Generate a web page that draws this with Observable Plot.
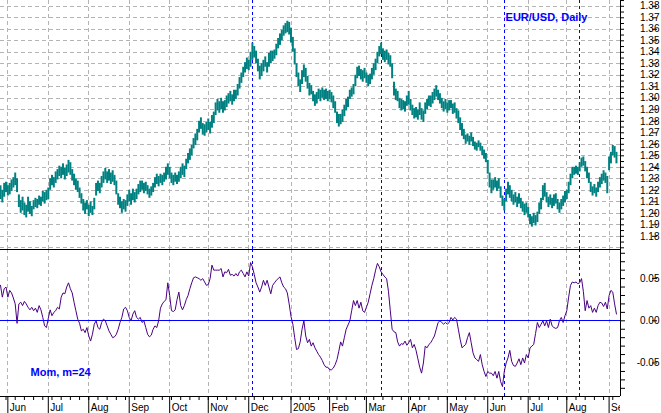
<!DOCTYPE html>
<html><head><meta charset="utf-8">
<script src="https://cdn.jsdelivr.net/npm/d3@7"></script>
<script src="https://cdn.jsdelivr.net/npm/@observablehq/plot@0.6"></script>
<style>
html,body{margin:0;padding:0;background:#fff;}
#chart{position:relative;width:661px;height:413px;overflow:hidden;background:#fff;}
#chart svg{position:absolute;left:0;}
</style></head><body><div id="chart"></div>
<script>
// EUR/USD daily bars, trading-day index 0 = 26 May 2004
const high = [1.224,1.220,1.226,1.227,1.224,1.226,1.229,1.231,1.235,1.230,
1.216,1.211,1.214,1.209,1.207,1.214,1.210,1.206,1.211,1.213,
1.212,1.215,1.214,1.219,1.218,1.220,1.222,1.230,1.233,1.231,
1.236,1.238,1.241,1.240,1.243,1.239,1.242,1.246,1.244,1.238,
1.234,1.230,1.228,1.222,1.217,1.212,1.209,1.211,1.207,1.210,
1.206,1.213,1.226,1.228,1.226,1.232,1.236,1.239,1.236,1.238,
1.235,1.237,1.233,1.228,1.217,1.214,1.210,1.212,1.211,1.216,
1.220,1.217,1.221,1.218,1.221,1.225,1.228,1.228,1.226,1.227,
1.224,1.221,1.223,1.226,1.231,1.234,1.232,1.234,1.233,1.235,
1.240,1.243,1.240,1.235,1.233,1.235,1.233,1.236,1.240,1.243,
1.241,1.247,1.252,1.256,1.259,1.265,1.269,1.273,1.280,1.283,
1.278,1.277,1.279,1.282,1.279,1.285,1.288,1.296,1.299,1.297,
1.300,1.297,1.298,1.302,1.304,1.306,1.303,1.307,1.307,1.312,
1.318,1.322,1.327,1.331,1.335,1.333,1.340,1.348,1.345,1.341,
1.334,1.328,1.330,1.333,1.336,1.331,1.339,1.341,1.341,1.342,
1.347,1.352,1.356,1.359,1.363,1.365,1.367,1.366,1.361,1.353,
1.343,1.330,1.322,1.316,1.324,1.329,1.326,1.319,1.313,1.311,
1.306,1.303,1.305,1.308,1.307,1.309,1.307,1.308,1.306,1.307,
1.305,1.302,1.297,1.288,1.286,1.286,1.290,1.294,1.299,1.301,
1.307,1.309,1.312,1.320,1.327,1.328,1.325,1.324,1.326,1.322,
1.320,1.321,1.326,1.330,1.334,1.340,1.345,1.348,1.343,1.341,
1.342,1.339,1.337,1.330,1.314,1.308,1.306,1.300,1.299,1.298,
1.297,1.302,1.306,1.299,1.294,1.291,1.292,1.290,1.296,1.291,
1.289,1.296,1.299,1.302,1.302,1.305,1.308,1.311,1.307,1.304,
1.300,1.297,1.299,1.296,1.298,1.298,1.295,1.296,1.291,1.289,
1.283,1.278,1.273,1.268,1.269,1.267,1.270,1.266,1.262,1.261,
1.263,1.261,1.258,1.255,1.252,1.246,1.235,1.229,1.229,1.231,
1.228,1.230,1.223,1.215,1.212,1.221,1.227,1.224,1.220,1.216,
1.218,1.214,1.217,1.213,1.210,1.208,1.209,1.205,1.199,1.197,
1.200,1.198,1.201,1.209,1.213,1.224,1.226,1.218,1.214,1.216,
1.213,1.216,1.217,1.212,1.209,1.212,1.215,1.219,1.220,1.227,
1.234,1.240,1.240,1.241,1.240,1.244,1.248,1.249,1.245,1.240,
1.235,1.227,1.223,1.225,1.222,1.227,1.231,1.234,1.237,1.235,
1.232,1.249,1.253,1.259,1.258,1.253];
const low = [1.212,1.209,1.214,1.218,1.215,1.216,1.219,1.222,1.224,1.218,
1.205,1.200,1.202,1.198,1.196,1.201,1.199,1.197,1.203,1.205,
1.204,1.207,1.206,1.210,1.208,1.211,1.212,1.220,1.224,1.222,
1.226,1.229,1.232,1.230,1.233,1.229,1.232,1.235,1.233,1.228,
1.224,1.220,1.218,1.213,1.208,1.202,1.199,1.203,1.197,1.200,
1.198,1.203,1.215,1.219,1.217,1.222,1.226,1.229,1.226,1.228,
1.225,1.227,1.224,1.216,1.207,1.204,1.200,1.203,1.201,1.206,
1.210,1.207,1.211,1.209,1.212,1.216,1.218,1.220,1.217,1.219,
1.216,1.213,1.215,1.218,1.222,1.225,1.223,1.226,1.224,1.227,
1.229,1.233,1.230,1.226,1.224,1.227,1.225,1.227,1.230,1.233,
1.231,1.238,1.243,1.246,1.250,1.256,1.259,1.263,1.270,1.273,
1.268,1.267,1.270,1.272,1.269,1.274,1.278,1.285,1.289,1.287,
1.290,1.287,1.289,1.292,1.295,1.297,1.294,1.297,1.299,1.302,
1.308,1.313,1.318,1.322,1.325,1.324,1.327,1.333,1.335,1.330,
1.323,1.316,1.319,1.323,1.327,1.322,1.327,1.330,1.332,1.334,
1.337,1.343,1.346,1.350,1.354,1.356,1.357,1.355,1.348,1.340,
1.329,1.318,1.310,1.305,1.312,1.318,1.314,1.308,1.302,1.303,
1.297,1.293,1.295,1.299,1.297,1.300,1.298,1.299,1.297,1.299,
1.296,1.291,1.287,1.278,1.275,1.277,1.279,1.284,1.289,1.292,
1.299,1.301,1.303,1.310,1.317,1.319,1.316,1.314,1.317,1.313,
1.310,1.312,1.316,1.320,1.324,1.330,1.336,1.338,1.333,1.331,
1.333,1.329,1.327,1.317,1.302,1.298,1.297,1.291,1.289,1.290,
1.288,1.293,1.294,1.289,1.285,1.282,1.283,1.281,1.285,1.281,
1.279,1.286,1.290,1.293,1.292,1.295,1.298,1.301,1.298,1.295,
1.291,1.288,1.290,1.287,1.289,1.291,1.286,1.287,1.282,1.278,
1.272,1.267,1.264,1.260,1.262,1.259,1.262,1.258,1.255,1.254,
1.257,1.254,1.250,1.247,1.244,1.234,1.222,1.217,1.220,1.222,
1.219,1.221,1.213,1.206,1.202,1.210,1.216,1.213,1.210,1.207,
1.209,1.205,1.208,1.204,1.201,1.198,1.200,1.196,1.190,1.188,
1.191,1.189,1.192,1.199,1.203,1.211,1.214,1.209,1.205,1.207,
1.204,1.206,1.208,1.203,1.200,1.203,1.206,1.209,1.212,1.217,
1.224,1.230,1.233,1.234,1.233,1.236,1.240,1.241,1.236,1.230,
1.226,1.218,1.215,1.217,1.214,1.218,1.222,1.225,1.228,1.226,
1.217,1.237,1.243,1.250,1.248,1.243];
// Momentum, m=24
const momentum = [0.042,0.028,0.038,0.040,0.028,0.036,0.033,0.027,0.020,-0.003,
0.020,0.022,0.018,0.023,0.020,0.016,0.013,0.016,0.012,0.015,
0.010,0.018,0.013,0.004,-0.006,-0.008,0.003,0.013,0.006,0.010,
0.012,0.016,0.014,0.028,0.033,0.032,0.040,0.045,0.038,0.033,
0.022,0.012,0.002,-0.003,-0.012,-0.010,-0.014,-0.008,-0.018,-0.024,
-0.016,-0.004,0.000,-0.008,-0.010,-0.002,0.002,0.000,-0.006,-0.012,
-0.016,-0.020,-0.019,-0.016,-0.010,-0.002,0.004,0.014,0.016,0.012,
0.004,0.000,0.008,0.012,0.004,0.002,0.004,-0.002,0.000,-0.008,
-0.016,-0.019,-0.017,-0.010,-0.006,-0.008,0.000,0.015,0.020,0.023,
0.025,0.045,0.030,0.012,0.011,0.013,0.025,0.034,0.018,0.013,
0.018,0.025,0.030,0.038,0.045,0.051,0.052,0.051,0.050,0.048,
0.050,0.046,0.042,0.043,0.050,0.066,0.060,0.060,0.060,0.060,
0.062,0.052,0.058,0.057,0.061,0.054,0.055,0.053,0.056,0.053,
0.058,0.060,0.056,0.052,0.058,0.053,0.069,0.064,0.055,0.045,
0.040,0.034,0.040,0.048,0.042,0.048,0.040,0.032,0.042,0.045,
0.048,0.050,0.052,0.045,0.040,0.038,0.033,0.020,0.005,-0.004,
-0.020,-0.034,-0.033,-0.025,-0.010,0.000,-0.018,-0.026,-0.022,-0.030,
-0.026,-0.032,-0.036,-0.040,-0.043,-0.047,-0.052,-0.055,-0.055,-0.058,
-0.058,-0.056,-0.052,-0.046,-0.036,-0.025,-0.030,-0.020,-0.010,-0.005,
0.000,0.012,0.024,0.018,0.024,0.015,0.022,0.012,0.010,0.016,
0.022,0.032,0.042,0.050,0.060,0.068,0.064,0.058,0.055,0.052,
0.050,0.035,0.012,-0.010,-0.013,-0.014,-0.025,-0.030,-0.027,-0.028,
-0.024,-0.029,-0.026,-0.022,-0.032,-0.028,-0.035,-0.045,-0.055,-0.062,
-0.050,-0.030,-0.032,-0.028,-0.026,-0.022,-0.018,-0.010,-0.002,0.000,
-0.002,-0.004,-0.002,-0.004,-0.002,0.004,0.001,0.004,0.002,-0.010,
-0.022,-0.032,-0.030,-0.028,-0.020,-0.014,-0.026,-0.038,-0.044,-0.046,
-0.048,-0.040,-0.052,-0.060,-0.066,-0.060,-0.062,-0.062,-0.065,-0.060,
-0.068,-0.060,-0.072,-0.078,-0.060,-0.050,-0.044,-0.035,-0.048,-0.053,
-0.054,-0.050,-0.045,-0.052,-0.044,-0.050,-0.040,-0.044,-0.032,-0.030,
-0.028,-0.015,-0.002,-0.008,-0.004,0.000,-0.006,0.000,-0.008,0.002,
-0.006,-0.008,-0.009,-0.008,0.000,0.004,-0.002,0.006,0.012,0.028,
0.042,0.046,0.045,0.046,0.044,0.045,0.050,0.035,0.012,0.024,
0.015,0.018,0.010,0.015,0.010,0.018,0.022,0.021,0.017,0.022,
0.014,0.030,0.036,0.034,0.020,0.008];
// first trading day of each month (index) and its label
const monthStart = [4,26,48,70,92,113,135,158,179,199,222,243,265,287,308,331];
const monthLabels = ["Jun","Jul","Aug","Sep","Oct","Nov","Dec","2005","Feb","Mar","Apr","May","Jun","Jul","Aug","Sep"];
const weekStart = d3.range(3, 337, 5); // Mondays
const markers = [137, 207, 274, 315];
const priceLabels = [1.18,1.19,1.20,1.21,1.22,1.23,1.24,1.25,1.26,1.27,1.28,1.29,1.30,1.31,1.32,1.33,1.34,1.35,1.36,1.37,1.38];
const priceGrid = [1.17, ...priceLabels];
const priceMinor = d3.range(1.17, 1.386, 0.005).map(v => +v.toFixed(3));
const momLabels = [-0.05, 0.00, 0.05];
const momMinor = d3.range(-0.08, 0.081, 0.01).map(v => +v.toFixed(2));
const title = "EUR/USD, Daily";
const indicatorTitle = "Mom, m=24";

const W = 661;
const xDomain = [0, 337.2];
const priceDomain = [1.16852, 1.38504];
const momDomain = [-0.08969, 0.08448];
const font = "'Liberation Sans', Arial, sans-serif";
const gray = {stroke: "#b4b4b4", strokeDasharray: "4,3", shapeRendering: "crispEdges"};
const blueDash = {stroke: "#0000ff", strokeDasharray: "3,3", shapeRendering: "crispEdges"};
const bars = high.map((h, i) => ({i, high: h, low: low[i]}));
const baseStyle = {background: "transparent", fontFamily: font, fontSize: "10px", color: "#000"};

const topPlot = Plot.plot({
  width: W, height: 249, marginTop: 0, marginBottom: 0, marginLeft: 0, marginRight: 41,
  style: baseStyle,
  x: {domain: xDomain, axis: null},
  y: {domain: priceDomain, label: null},
  marks: [
    Plot.ruleY(priceGrid, gray),
    Plot.ruleX(monthStart, gray),
    Plot.ruleX(markers, blueDash),
    Plot.ruleX(bars, {x: "i", y1: "low", y2: "high", stroke: "#008080", strokeWidth: 2}),
    Plot.ruleX([xDomain[1]], {stroke: "#000", shapeRendering: "crispEdges"}),
    Plot.axisY(priceMinor, {anchor: "right", tickSize: 3, tickFormat: () => "", label: null}),
    Plot.axisY(priceLabels, {anchor: "right", tickSize: 5, tickPadding: 3, tickFormat: d => d.toFixed(2), textAnchor: "end", dx: 31, fontSize: 10, label: null}),
    Plot.text([title], {frameAnchor: "top-right", textAnchor: "end", lineAnchor: "top", dx: -33, dy: 13, fill: "#0000ff", fontWeight: "bold", fontSize: 11})
  ]
});

const bottomPlot = Plot.plot({
  width: W, height: 165, marginTop: 1, marginBottom: 17, marginLeft: 0, marginRight: 41,
  style: baseStyle,
  x: {domain: xDomain, label: null},
  y: {domain: momDomain, label: null},
  marks: [
    Plot.ruleX(monthStart, gray),
    Plot.ruleX(markers, blueDash),
    Plot.ruleY([0], {stroke: "#0000ff", shapeRendering: "crispEdges"}),
    Plot.line(momentum, {x: (d, i) => i, y: d => d, stroke: "#4b0082", strokeWidth: 1}),
    Plot.ruleY([momDomain[1]], {stroke: "#000", shapeRendering: "crispEdges"}),
    Plot.ruleY([momDomain[0]], {stroke: "#000", shapeRendering: "crispEdges"}),
    Plot.ruleX([xDomain[1]], {stroke: "#000", shapeRendering: "crispEdges"}),
    Plot.axisX(monthStart, {anchor: "bottom", tickSize: 17, tickFormat: () => "", label: null}),
    Plot.axisX(weekStart, {anchor: "bottom", tickSize: 4, tickFormat: () => "", label: null}),
    Plot.axisY(momMinor, {anchor: "right", tickSize: 4, tickFormat: () => "", label: null}),
    Plot.axisY(momLabels, {anchor: "right", tickSize: 5, tickPadding: 3, tickFormat: d => d.toFixed(2), textAnchor: "end", dx: 31, fontSize: 10, label: null}),
    Plot.text([indicatorTitle], {frameAnchor: "top-left", textAnchor: "start", lineAnchor: "top", dx: 30, dy: 119, fill: "#0000ff", fontWeight: "bold", fontSize: 11})
  ]
});

const labelPlot = Plot.plot({
  width: 620, height: 17, marginTop: 0, marginBottom: 0, marginLeft: 0, marginRight: 0,
  style: {...baseStyle, overflow: "hidden"},
  x: {domain: xDomain, axis: null},
  marks: [
    Plot.text(monthStart, {x: d => d, text: (d, i) => monthLabels[i], frameAnchor: "top", lineAnchor: "top", textAnchor: "start", dx: 2, dy: 7.5, fontSize: 10, fill: "#000"})
  ]
});

const chart = document.getElementById("chart");
topPlot.style.top = "0px";
bottomPlot.style.top = "248px";
labelPlot.style.top = "396px";
chart.append(topPlot, bottomPlot, labelPlot);
</script></body></html>
